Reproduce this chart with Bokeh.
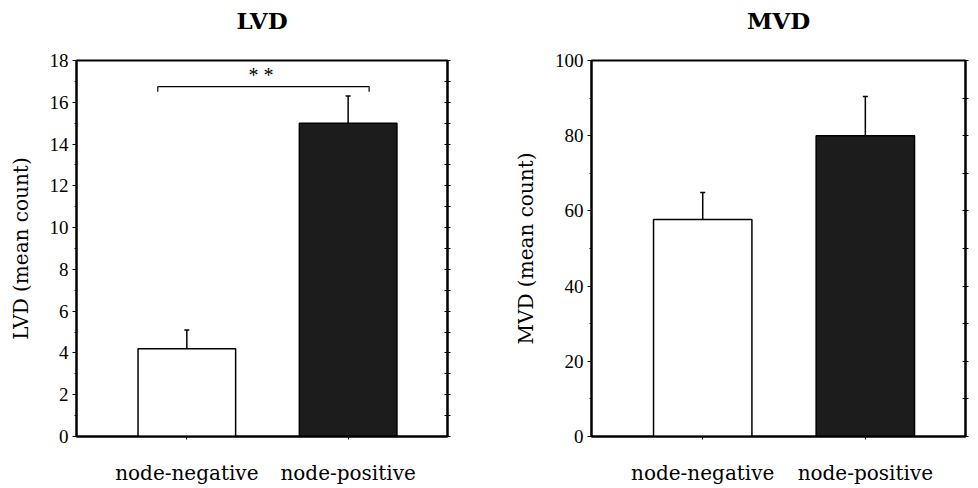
from bokeh.plotting import figure
from bokeh.layouts import row
from bokeh.models import (Range1d, FixedTicker, LinearAxis, Whisker, ColumnDataSource, Label)
from bokeh.embed import file_html
from bokeh.resources import INLINE

categories = ["node-negative", "node-positive"]
lvd_values = [4.2, 15.0]
lvd_errors = [0.9, 1.3]
mvd_values = [57.7, 80.0]
mvd_errors = [7.2, 10.4]
bar_colors = ["white", "#1c1c1c"]

SERIF = "Liberation Serif"
WIDE = "DejaVu Serif"


def make(title, ylabel, values, errors, ymax, major, minor, width, left_b, right_b, sig=None):
    xs = [0, 1]
    p = figure(width=width, height=488,
               min_border_left=left_b, min_border_right=right_b,
               min_border_top=60, min_border_bottom=52,
               x_range=Range1d(-0.684, 1.616), y_range=Range1d(0, ymax),
               output_backend="svg", toolbar_location=None)
    p.grid.visible = False
    p.outline_line_color = "black"
    p.outline_line_width = 2
    p.background_fill_color = "white"
    p.border_fill_color = "white"

    p.title.text = title + "\n "
    p.title.align = "center"
    p.title.text_font = WIDE
    p.title.text_font_style = "bold"
    p.title.text_font_size = "23px"
    p.title.text_color = "black"
    p.title.standoff = 0

    src = ColumnDataSource(dict(x=xs, top=values, color=bar_colors,
                                upper=[v + e for v, e in zip(values, errors)]))
    p.vbar(x="x", top="top", width=0.605, source=src, fill_color="color",
           line_color="black", line_width=1.5)
    w = Whisker(source=src, base="x", lower="top", upper="upper", dimension="height",
                line_color="black", line_width=1.5, lower_head=None)
    w.upper_head.size = 5
    w.upper_head.line_width = 1.5
    p.add_layout(w)

    xa = p.xaxis[0]
    xa.ticker = FixedTicker(ticks=xs)
    xa.major_label_overrides = {i: c for i, c in zip(xs, categories)}
    xa.major_label_text_font = WIDE
    xa.major_label_text_font_size = "20px"
    xa.major_label_text_color = "black"
    xa.major_label_standoff = 21
    xa.axis_line_width = 2
    xa.major_tick_in = 0
    xa.major_tick_out = 3
    xa.minor_tick_line_color = None

    ya = p.yaxis[0]
    ya.ticker = FixedTicker(ticks=list(range(0, ymax + 1, major)),
                            minor_ticks=list(range(0, ymax + 1, minor)))
    ya.axis_label = ylabel
    ya.axis_label_text_font = WIDE
    ya.axis_label_text_font_style = "normal"
    ya.axis_label_text_font_size = "20px"
    ya.axis_label_text_color = "black"
    ya.axis_label_standoff = 14
    ya.major_label_text_font = SERIF
    ya.major_label_text_font_size = "19px"
    ya.major_label_text_color = "black"
    ya.major_label_standoff = 4
    ya.axis_line_width = 2
    ya.major_tick_in = 0
    ya.major_tick_out = 4
    ya.minor_tick_in = 0
    ya.minor_tick_out = 2

    ra = LinearAxis(ticker=FixedTicker(ticks=list(range(0, ymax + 1, minor)),
                                       minor_ticks=[]),
                    major_label_text_color=None, major_label_text_font_size="1px",
                    major_label_standoff=0,
                    axis_line_width=2, major_tick_in=3, major_tick_out=3)
    p.add_layout(ra, "right")

    if sig is not None:
        (bx0, bx1), yb, yd, ys = sig
        p.segment(x0=[bx0, bx0, bx1], y0=[yb, yb, yb], x1=[bx1, bx0, bx1], y1=[yb, yd, yd],
                  line_color="black", line_width=1.2)
        p.add_layout(Label(x=(bx0 + bx1) / 2, y=ys, text="*  *", text_align="center",
                           text_baseline="middle", text_font=SERIF,
                           text_font_size="20px", text_color="black"))
    return p


p1 = make("LVD", "LVD (mean count)", lvd_values, lvd_errors, 18, 2, 1, 485, 76, 38,
          sig=((-0.18, 1.13), 16.75, 16.5, 17.3))
p2 = make("MVD", "MVD (mean count)", mvd_values, mvd_errors, 100, 20, 10, 485, 106, 5)

layout = row(p1, p2)
open("out.html", "w").write(file_html(layout, INLINE))
